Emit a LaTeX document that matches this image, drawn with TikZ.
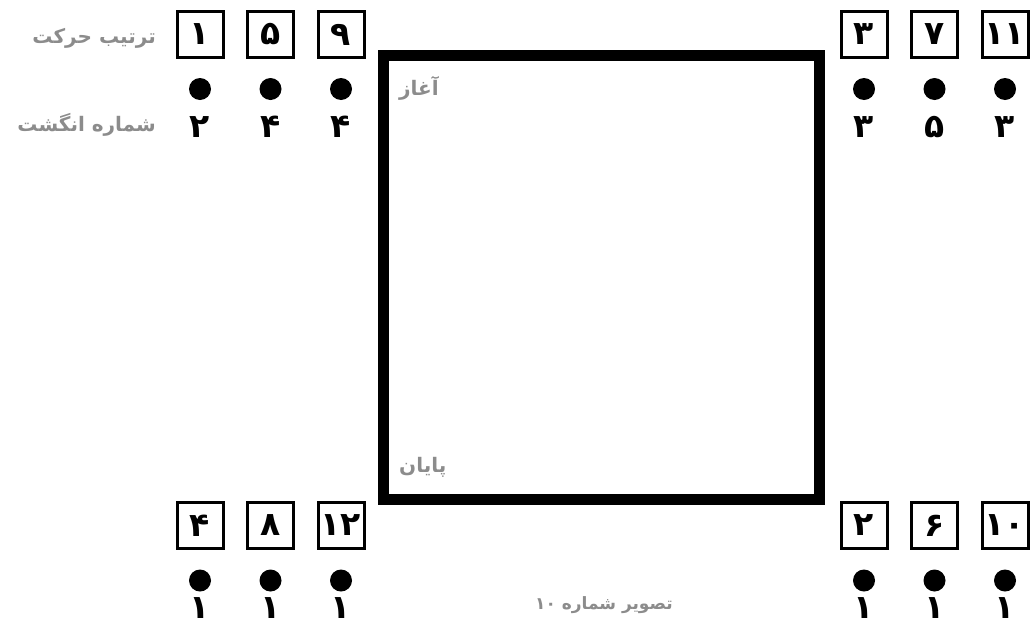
\documentclass[tikz,border=0pt]{standalone}
\usepackage{fontspec}
\newfontfamily\fafont[Script=Arabic]{DejaVu Sans}
\TeXXeTstate=1
\usetikzlibrary{positioning}
\definecolor{labelgray}{RGB}{140,140,140}

\begin{document}
\begin{tikzpicture}[
    x=1pt, y=-1pt,
    node distance=70.5pt, on grid,
    numbox/.style={rectangle, draw=black, line width=3pt, minimum size=46pt, inner sep=0pt, font=\fafont\bfseries\fontsize{33}{36}\selectfont},
    dot/.style={circle, fill=black, minimum size=22pt, inner sep=0pt},
    finger/.style={inner sep=0pt, text height=24pt, text depth=0pt, font=\fafont\bfseries\fontsize{33}{36}\selectfont},
    graytext/.style={inner sep=0pt, text=labelgray, font=\fafont\bfseries\fontsize{20}{24}\selectfont}
]
\useasboundingbox (0,0) rectangle (1031,627);

% the square
\draw[line width=11pt] (383.5,55.5) rectangle (819.5,499.5);
\node[graytext, anchor=west] (start) at (399,88) {\beginR آغاز\endR};
\node[graytext, anchor=west] (finish) at (399,467) {\beginR پایان\endR};

% top left
\node[numbox] (b1) at (200,34.5) {۱};
\node[numbox, right=of b1] (b5) {۵};
\node[numbox, right=of b5] (b9) {۹};
\node[dot, below=54.5pt of b1] (d1) {};
\node[dot, below=54.5pt of b5] (d5) {};
\node[dot, below=54.5pt of b9] (d9) {};
\node[finger, below=36pt of d1] (f1) {۲};
\node[finger, below=36pt of d5] (f5) {۴};
\node[finger, below=36pt of d9] (f9) {۴};

% row labels
\node[graytext, anchor=east] (order) at (156,38) {\beginR ترتیب حرکت\endR};
\node[graytext, anchor=east] (fingers) at (156,125) {\beginR شماره انگشت\endR};

% top right
\node[numbox] (b3) at (864,34.5) {۳};
\node[numbox, right=of b3] (b7) {۷};
\node[numbox, right=of b7] (b11) {۱۱};
\node[dot, below=54.5pt of b3] (d3) {};
\node[dot, below=54.5pt of b7] (d7) {};
\node[dot, below=54.5pt of b11] (d11) {};
\node[finger, below=36pt of d3] (f3) {۳};
\node[finger, below=36pt of d7] (f7) {۵};
\node[finger, below=36pt of d11] (f11) {۳};

% bottom left
\node[numbox] (b4) at (200,525.5) {۴};
\node[numbox, right=of b4] (b8) {۸};
\node[numbox, right=of b8] (b12) {۱۲};
\node[dot, below=55pt of b4] (d4) {};
\node[dot, below=55pt of b8] (d8) {};
\node[dot, below=55pt of b12] (d12) {};
\node[finger, below=26pt of d4] (f4) {۱};
\node[finger, below=26pt of d8] (f8) {۱};
\node[finger, below=26pt of d12] (f12) {۱};

% bottom right
\node[numbox] (b2) at (864,525.5) {۲};
\node[numbox, right=of b2] (b6) {۶};
\node[numbox, right=of b6] (b10) {۱۰};
\node[dot, below=55pt of b2] (d2) {};
\node[dot, below=55pt of b6] (d6) {};
\node[dot, below=55pt of b10] (d10) {};
\node[finger, below=26pt of d2] (f2) {۱};
\node[finger, below=26pt of d6] (f6) {۱};
\node[finger, below=26pt of d10] (f10) {۱};

% caption
\node[graytext, font=\fafont\bfseries\fontsize{17}{20}\selectfont] (caption) at (604,605) {\beginR تصویر شماره \beginL۱۰\endL\endR};

\end{tikzpicture}
\end{document}
